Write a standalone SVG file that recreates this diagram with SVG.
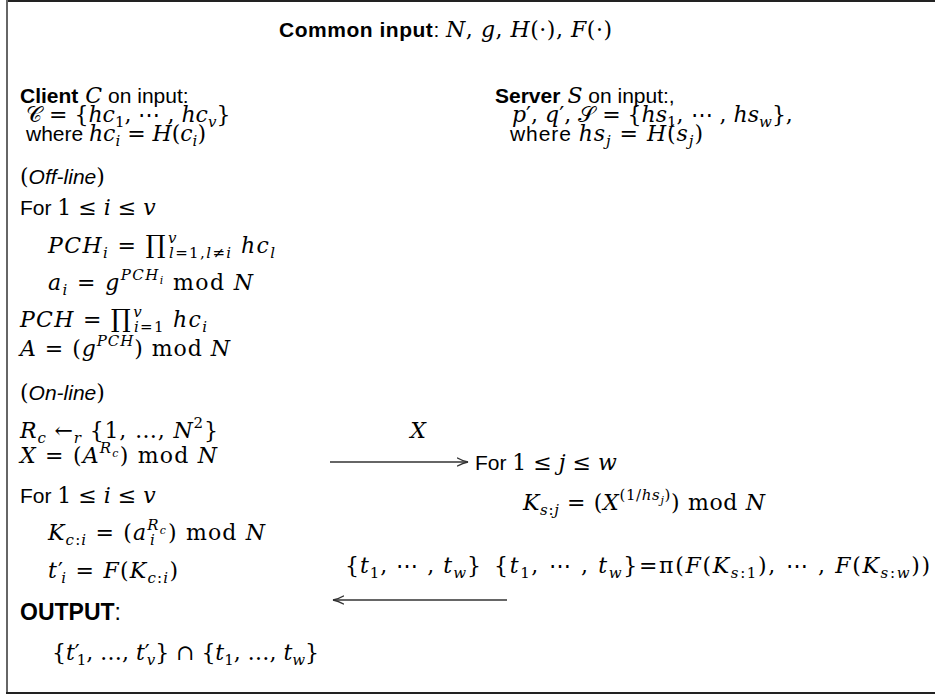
<svg xmlns="http://www.w3.org/2000/svg" width="935" height="696" viewBox="0 0 935 696">
<style>
text { font-family: "DejaVu Serif", "Liberation Serif", serif; font-size: 22px; fill: #000; }
.i { font-style: italic; }
.s { font-family: "Liberation Sans", Arial, sans-serif; font-size: 21px; font-style: normal; }
.sb { font-family: "Liberation Sans", Arial, sans-serif; font-size: 21px; font-weight: bold; }
.si { font-family: "Liberation Sans", Arial, sans-serif; font-size: 21px; font-style: italic; }
.sc { font-size: 15px; }
.ssc { font-size: 11px; }
.big { font-size: 25px; }
.lm { text-anchor: middle; }
.conn { stroke: #333; stroke-width: 1.3; fill: none; }
.frame { stroke: #222; stroke-width: 2; fill: none; }
</style>
<defs>
<marker id="head" markerUnits="userSpaceOnUse" viewBox="0 0 12 10" refX="11" refY="5" markerWidth="12" markerHeight="10" orient="auto">
<path d="M0,0.8 Q6,4.2 11,5 Q6,5.8 0,9.2" fill="none" stroke="#333" stroke-width="1.3"/>
</marker>
</defs>

<g id="frame">
<path class="frame" d="M935,1 H7"/>
<path d="M7,0 V694" stroke="#666" stroke-width="2"/>
<path class="frame" d="M6,693 H935"/>
</g>

<g id="header">
<text x="279" y="37" textLength="333" lengthAdjust="spacing"><tspan class="sb">Common input</tspan><tspan class="s">: </tspan><tspan class="i">N</tspan>, <tspan class="i">g</tspan>, <tspan class="i">H</tspan>(·), <tspan class="i">F</tspan>(·)</text>
</g>

<g id="client">
<text x="20" y="103"><tspan class="sb">Client</tspan> <tspan class="i">C</tspan><tspan class="s"> on input:</tspan></text>
<text x="26" y="122">𝒞 = {<tspan class="i">hc</tspan><tspan class="sc" dy="5">1</tspan><tspan dy="-5">, ⋯ , </tspan><tspan class="i">hc</tspan><tspan class="sc i" dy="5">v</tspan><tspan dy="-5">}</tspan></text>
<text x="26" y="141" textLength="180" lengthAdjust="spacing"><tspan class="s">where </tspan><tspan class="i">hc</tspan><tspan class="sc i" dy="5">i</tspan><tspan dy="-5"> = </tspan><tspan class="i">H</tspan>(<tspan class="i">c</tspan><tspan class="sc i" dy="5">i</tspan><tspan dy="-5">)</tspan></text>

<text x="20" y="184">(<tspan class="si">Off-line</tspan>)</text>
<text x="20" y="215"><tspan class="s">For </tspan>1 ≤ <tspan class="i">i</tspan> ≤ <tspan class="i">v</tspan></text>
<text x="48" y="253" textLength="227" lengthAdjust="spacing"><tspan class="i">PCH</tspan><tspan class="sc i" dy="5">i</tspan><tspan dy="-5"> = </tspan><tspan class="big">∏</tspan><tspan class="sc i" dx="1" dy="-10">v</tspan><tspan class="sc" dx="-9" dy="15"><tspan class="i">l</tspan>=1,<tspan class="i">l</tspan>≠<tspan class="i">i</tspan></tspan><tspan dy="-5"> </tspan><tspan class="i">hc</tspan><tspan class="sc i" dy="5">l</tspan></text>
<text x="48" y="290" textLength="205" lengthAdjust="spacing"><tspan class="i">a</tspan><tspan class="sc i" dy="5">i</tspan><tspan dy="-5"> = </tspan><tspan class="i">g</tspan><tspan class="sc i" dy="-10">PCH</tspan><tspan class="ssc i" dy="4">i</tspan><tspan dy="6"> mod </tspan><tspan class="i">N</tspan></text>
<text x="20" y="327" textLength="187" lengthAdjust="spacing"><tspan class="i">PCH</tspan> = <tspan class="big">∏</tspan><tspan class="sc i" dx="1" dy="-10">v</tspan><tspan class="sc" dx="-9" dy="15"><tspan class="i">i</tspan>=1</tspan><tspan dy="-5"> </tspan><tspan class="i">hc</tspan><tspan class="sc i" dy="5">i</tspan></text>
<text x="20" y="356" textLength="210" lengthAdjust="spacing"><tspan class="i">A</tspan> = (<tspan class="i">g</tspan><tspan class="sc i" dy="-10">PCH</tspan><tspan dy="10">) mod </tspan><tspan class="i">N</tspan></text>

<text x="20" y="400">(<tspan class="si">On-line</tspan>)</text>
<text x="20" y="438" textLength="198" lengthAdjust="spacing"><tspan class="i">R</tspan><tspan class="sc i" dy="5">c</tspan><tspan dy="-5"> ←</tspan><tspan class="sc i" dy="5">r</tspan><tspan dy="-5"> {1, …, </tspan><tspan class="i">N</tspan><tspan class="sc" dy="-10">2</tspan><tspan dy="10">}</tspan></text>
<text x="20" y="463" textLength="197" lengthAdjust="spacing"><tspan class="i">X</tspan> = (<tspan class="i">A</tspan><tspan class="sc i" dy="-10">R</tspan><tspan class="ssc i" dy="4">c</tspan><tspan dy="6">) mod </tspan><tspan class="i">N</tspan></text>
<text x="20" y="503"><tspan class="s">For </tspan>1 ≤ <tspan class="i">i</tspan> ≤ <tspan class="i">v</tspan></text>
<text x="48" y="540" textLength="217" lengthAdjust="spacing"><tspan class="i">K</tspan><tspan class="sc" dy="5"><tspan class="i">c</tspan>:<tspan class="i">i</tspan></tspan><tspan dy="-5"> = (</tspan><tspan class="i">a</tspan><tspan class="sc i" dy="-10">R</tspan><tspan class="ssc i" dy="4">c</tspan><tspan class="sc i" dx="-17" dy="11">i</tspan><tspan dx="12" dy="-5">) mod </tspan><tspan class="i">N</tspan></text>
<text x="48" y="578" textLength="130" lengthAdjust="spacing"><tspan class="i">t</tspan>′<tspan class="sc i" dx="-3" dy="5">i</tspan><tspan dy="-5"> = </tspan><tspan class="i">F</tspan>(<tspan class="i">K</tspan><tspan class="sc" dy="5"><tspan class="i">c</tspan>:<tspan class="i">i</tspan></tspan><tspan dy="-5">)</tspan></text>
<text x="20" y="620"><tspan class="sb" style="font-size:23px">OUTPUT</tspan><tspan class="s" style="font-size:23px">:</tspan></text>
<text x="52" y="660" textLength="267" lengthAdjust="spacing">{<tspan class="i">t</tspan>′<tspan class="sc" dx="-3" dy="5">1</tspan><tspan dy="-5">, …, </tspan><tspan class="i">t</tspan>′<tspan class="sc i" dx="-3" dy="5">v</tspan><tspan dy="-5">} ∩ {</tspan><tspan class="i">t</tspan><tspan class="sc" dy="5">1</tspan><tspan dy="-5">, …, </tspan><tspan class="i">t</tspan><tspan class="sc i" dy="5">w</tspan><tspan dy="-5">}</tspan></text>
</g>

<g id="server">
<text x="495" y="103"><tspan class="sb">Server</tspan> <tspan class="i">S</tspan><tspan class="s"> on input:,</tspan></text>
<text x="512" y="122"><tspan class="i">p</tspan>′, <tspan class="i">q</tspan>′, 𝒮 = {<tspan class="i">hs</tspan><tspan class="sc" dy="5">1</tspan><tspan dy="-5">, ⋯ , </tspan><tspan class="i">hs</tspan><tspan class="sc i" dy="5">w</tspan><tspan dy="-5">},</tspan></text>
<text x="510" y="141" textLength="193" lengthAdjust="spacing"><tspan class="s">where </tspan><tspan class="i">hs</tspan><tspan class="sc i" dy="5">j</tspan><tspan dy="-5"> = </tspan><tspan class="i">H</tspan>(<tspan class="i">s</tspan><tspan class="sc i" dy="5">j</tspan><tspan dy="-5">)</tspan></text>
<text x="475" y="470"><tspan class="s">For </tspan>1 ≤ <tspan class="i">j</tspan> ≤ <tspan class="i">w</tspan></text>
<text x="523" y="510" textLength="242" lengthAdjust="spacing"><tspan class="i">K</tspan><tspan class="sc" dy="5"><tspan class="i">s</tspan>:<tspan class="i">j</tspan></tspan><tspan dy="-5"> = (</tspan><tspan class="i">X</tspan><tspan class="sc" dy="-10">(1/<tspan class="i">hs</tspan></tspan><tspan class="ssc i" dy="4">j</tspan><tspan class="sc" dy="-4">)</tspan><tspan dy="10">) mod </tspan><tspan class="i">N</tspan></text>
<text x="494" y="573" textLength="436" lengthAdjust="spacing">{<tspan class="i">t</tspan><tspan class="sc" dy="5">1</tspan><tspan dy="-5">, ⋯ , </tspan><tspan class="i">t</tspan><tspan class="sc i" dy="5">w</tspan><tspan dy="-5">}=π(</tspan><tspan class="i">F</tspan>(<tspan class="i">K</tspan><tspan class="sc" dy="5"><tspan class="i">s</tspan>:1</tspan><tspan dy="-5">), ⋯ , </tspan><tspan class="i">F</tspan>(<tspan class="i">K</tspan><tspan class="sc" dy="5"><tspan class="i">s</tspan>:<tspan class="i">w</tspan></tspan><tspan dy="-5">))</tspan></text>
</g>

<g id="connectors">
<line class="conn" x1="330" y1="462" x2="468" y2="462" marker-end="url(#head)"/>
<text class="lm i" x="418" y="438">X</text>
<line class="conn" x1="507" y1="600" x2="333" y2="600" marker-end="url(#head)"/>
<text x="345" y="573" textLength="136" lengthAdjust="spacing">{<tspan class="i">t</tspan><tspan class="sc" dy="5">1</tspan><tspan dy="-5">, ⋯ , </tspan><tspan class="i">t</tspan><tspan class="sc i" dy="5">w</tspan><tspan dy="-5">}</tspan></text>
</g>
</svg>
